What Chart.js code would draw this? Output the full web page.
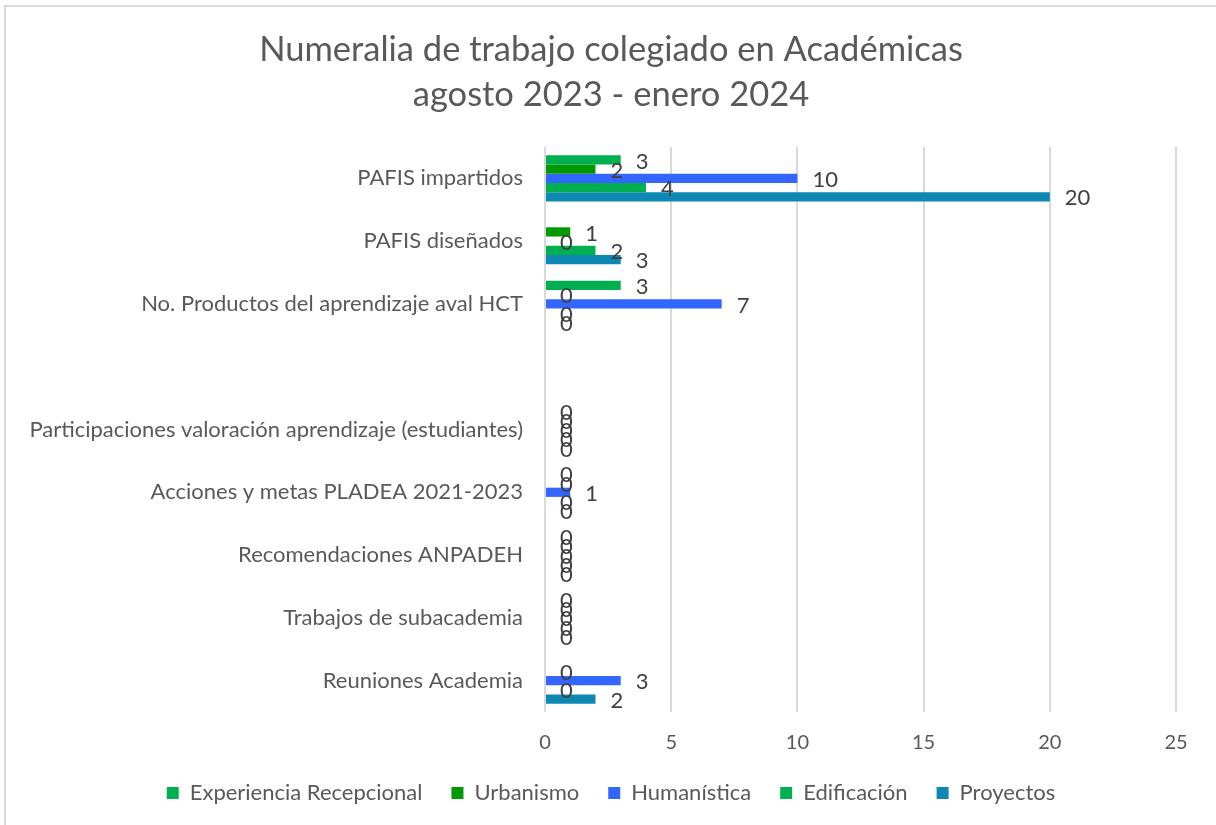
<!DOCTYPE html>
<html><head><meta charset="utf-8">
<script src="https://cdn.jsdelivr.net/npm/chart.js@4.4.0/dist/chart.umd.min.js"></script>
<style>
html,body{margin:0;padding:0;background:#fff;overflow:hidden;}
#frame{position:absolute;left:4px;top:5px;width:1400px;height:1000px;border:2px solid #d9d9d9;box-sizing:border-box;}
#wrap{position:absolute;left:0;top:0;width:1216px;height:825px;}
</style></head><body>
<div id="frame"></div>
<div id="wrap"><canvas id="c" width="1216" height="825"></canvas></div>
<script>
const categories = [
  'PAFIS impartidos',
  'PAFIS diseñados',
  'No. Productos del aprendizaje aval HCT',
  '',
  'Participaciones valoración aprendizaje (estudiantes)',
  'Acciones y metas PLADEA 2021-2023',
  'Recomendaciones ANPADEH',
  'Trabajos de subacademia',
  'Reuniones Academia'
];
const seriesNames = ['Experiencia Recepcional', 'Urbanismo', 'Humanística', 'Edificación', 'Proyectos'];
const experienciaRecepcional = [3, null, 3, null, 0, 0, 0, 0, null];
const urbanismo             = [2, 1, 0, null, 0, 0, 0, 0, 0];
const humanistica           = [10, 0, 7, null, 0, 1, 0, 0, 3];
const edificacion           = [4, 2, 0, null, 0, 0, 0, 0, 0];
const proyectos             = [20, 3, 0, null, 0, 0, 0, 0, 2];
const xTickValues = [0, 5, 10, 15, 20, 25];
const titleLines = ['Numeralia de trabajo colegiado en Académicas', 'agosto 2023 - enero 2024'];

const seriesColors = ['#00B050', '#009A00', '#3366FF', '#00B050', '#0C88B2'];
const seriesValues = [experienciaRecepcional, urbanismo, humanistica, edificacion, proyectos];

const FONT = 'Lato';

const valueLabels = {
  id: 'valueLabels',
  afterDatasetsDraw(chart) {
    const ctx = chart.ctx;
    ctx.save();
    ctx.font = '22px ' + FONT;
    ctx.fillStyle = '#404040';
    ctx.textAlign = 'left';
    ctx.textBaseline = 'middle';
    chart.data.datasets.forEach((ds, di) => {
      const meta = chart.getDatasetMeta(di);
      meta.data.forEach((bar, i) => {
        const v = ds.data[i];
        if (v === null || v === undefined) return;
        ctx.fillText(String(v), bar.x + 15, bar.y + 1.5);
      });
    });
    ctx.restore();
  }
};

new Chart(document.getElementById('c'), {
  type: 'bar',
  data: {
    labels: categories,
    datasets: seriesNames.map((name, i) => ({
      label: name,
      data: seriesValues[i],
      backgroundColor: seriesColors[i],
      borderWidth: 0,
      categoryPercentage: 0.735,
      barPercentage: 1.0
    }))
  },
  options: {
    indexAxis: 'y',
    responsive: false,
    devicePixelRatio: 1,
    animation: false,
    layout: { padding: { left: 6, right: 0, top: 0, bottom: 11 } },
    plugins: {
      tooltip: { enabled: false },
      title: {
        display: true,
        text: titleLines,
        color: '#595959',
        font: { family: FONT, size: 34.5, weight: 'normal', lineHeight: 1.304 },
        padding: { top: 27.5, bottom: 29.5 }
      },
      legend: {
        position: 'bottom',
        maxHeight: 79,
        labels: {
          boxWidth: 12,
          boxHeight: 12,
          padding: 29,
          color: '#595959',
          font: { family: FONT, size: 22 }
        }
      }
    },
    scales: {
      x: {
        min: 0,
        max: 25,
        afterBuildTicks(scale) { scale.ticks = xTickValues.map(v => ({ value: v })); },
        afterFit(scale) { scale.height = 41; },
        grid: { color: '#d9d9d9', lineWidth: 2, drawTicks: false },
        border: { display: false },
        ticks: { color: '#595959', font: { family: FONT, size: 20 }, padding: 19 }
      },
      y: {
        afterFit(scale) { scale.width = 539; },
        grid: { display: false, drawTicks: false },
        border: { display: false },
        ticks: { color: '#595959', font: { family: FONT, size: 22 }, padding: 22, autoSkip: false }
      },
      yRightSpace: {
        type: 'category',
        labels: categories,
        position: 'right',
        display: true,
        afterFit(scale) { scale.width = 40; },
        grid: { display: false, drawTicks: false },
        border: { display: false },
        ticks: { display: false }
      }
    }
  },
  plugins: [valueLabels]
});
</script>
</body></html>
